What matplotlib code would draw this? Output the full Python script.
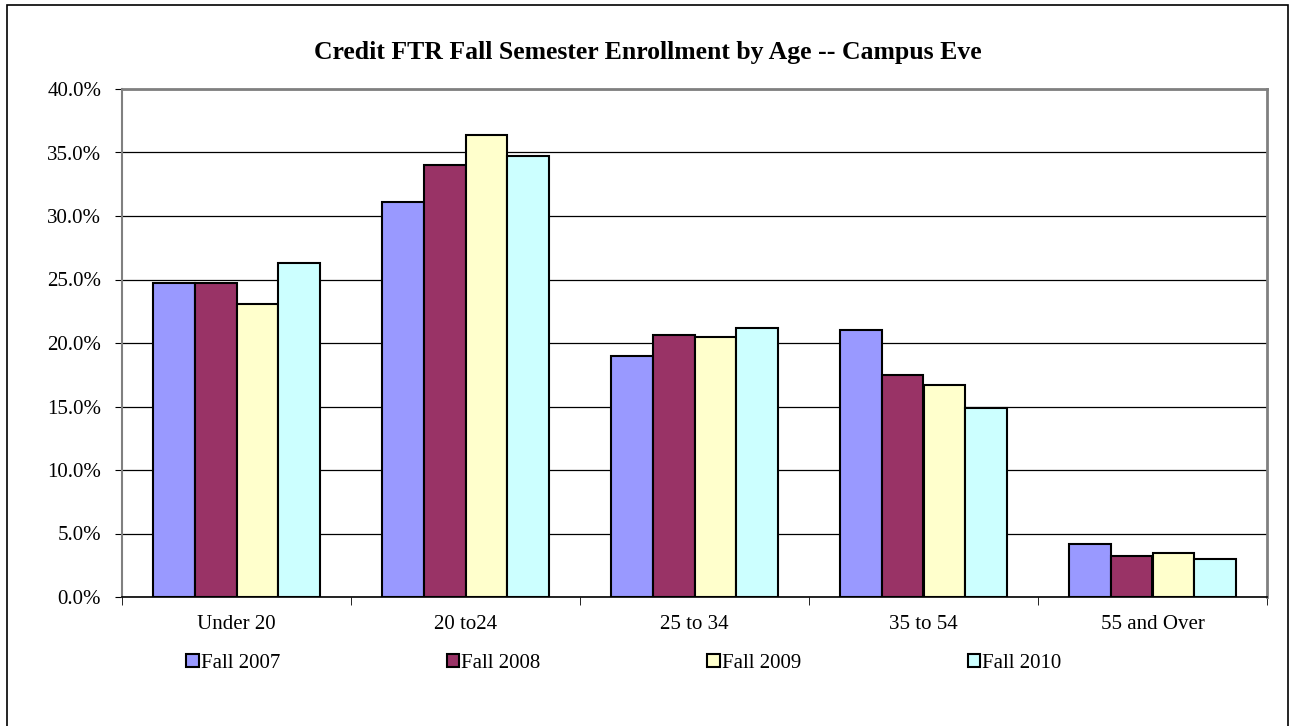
import matplotlib
matplotlib.use("Agg")
import matplotlib.pyplot as plt
import numpy as np
from matplotlib.patches import Rectangle

categories = ["Under 20", "20 to24", "25 to 34", "35 to 54", "55 and Over"]
series_names = ["Fall 2007", "Fall 2008", "Fall 2009", "Fall 2010"]
fall_2007 = [24.7, 31.1, 19.0, 21.0, 4.2]
fall_2008 = [24.7, 34.0, 20.6, 17.5, 3.2]
fall_2009 = [23.1, 36.4, 20.5, 16.7, 3.5]
fall_2010 = [26.3, 34.7, 21.2, 14.9, 3.0]
colors = ["#9999FF", "#993366", "#FFFFCC", "#CCFFFF"]
yticks = [0, 5, 10, 15, 20, 25, 30, 35, 40]

plt.rcParams['font.family'] = ['Liberation Serif', 'DejaVu Serif']

fig = plt.figure(figsize=(12.95, 7.26), dpi=100)
ax = fig.add_axes([122/1295, 1-597/726, (1267-122)/1295, (597-89)/726])

# outer border
fig.patches.append(Rectangle((7/1295, -0.01), (1288-7)/1295, 1-5/726+0.01,
                             transform=fig.transFigure, fill=False,
                             edgecolor='black', linewidth=1.2))

data = [fall_2007, fall_2008, fall_2009, fall_2010]
x = np.arange(len(categories))
w = 0.182
for i, (vals, c, name) in enumerate(zip(data, colors, series_names)):
    ax.bar(x + (i - 1.5) * w, vals, width=w, color=c, edgecolor='black',
           linewidth=1.5, label=name, zorder=3)

ax.set_xlim(-0.5, len(categories) - 0.5)
ax.set_ylim(0, 40)
ax.set_yticks(yticks)
ax.set_yticklabels([f"{v:.1f}%" for v in yticks], fontsize=15)
ax.yaxis.grid(True, color='black', linewidth=0.9, zorder=0)
ax.set_axisbelow(True)

ax.set_xticks(x)
ax.set_xticklabels(categories, fontsize=15)
ax.tick_params(axis='x', length=0, pad=13)
ax.set_xticks(np.arange(-0.5, len(categories)), minor=True)
ax.tick_params(axis='x', which='minor', length=6, direction='out', color='black')
ax.tick_params(axis='y', length=5, direction='out', color='black', pad=10)

for side in ['top', 'right']:
    ax.spines[side].set_color('#808080')
    ax.spines[side].set_linewidth(2)
ax.spines['left'].set_color('#808080')
ax.spines['left'].set_linewidth(1.5)
ax.spines['bottom'].set_color('black')
ax.spines['bottom'].set_linewidth(1.2)

fig.text(0.5, 1 - 52/726, "Credit FTR Fall Semester Enrollment by Age -- Campus Eve",
         ha='center', va='center', fontsize=18.5, fontweight='bold')

leg = fig.legend(loc='center', bbox_to_anchor=(624/1295, 1 - 663/726), ncol=4,
                 frameon=False, fontsize=15, handlelength=0.6, handleheight=0.6,
                 handletextpad=0.1, columnspacing=8.0)
for h in leg.legend_handles:
    h.set_linewidth(1.5)

fig.savefig("out.png", dpi=100)
